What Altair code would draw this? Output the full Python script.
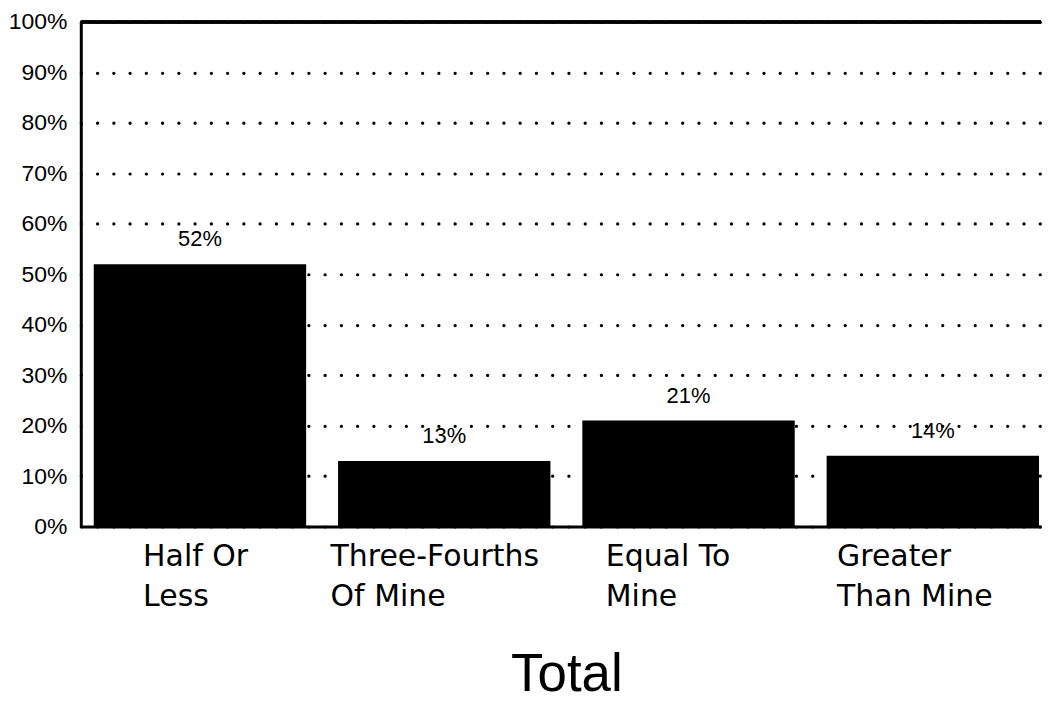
import altair as alt
import pandas as pd

categories = ["Half Or|Less", "Three-Fourths|Of Mine", "Equal To|Mine", "Greater|Than Mine"]
values = [52, 13, 21, 14]
value_labels = ["52%", "13%", "21%", "14%"]
y_ticks = [0, 10, 20, 30, 40, 50, 60, 70, 80, 90, 100]
x_title = "Total"

df = pd.DataFrame({"category": categories, "value": values, "label": value_labels})

label_offset = {
    "condition": [
        {"test": "datum.value == 'Half Or|Less'", "value": -57},
        {"test": "datum.value == 'Three-Fourths|Of Mine'", "value": -114},
        {"test": "datum.value == 'Equal To|Mine'", "value": -83},
    ],
    "value": -96,
}

x_enc = alt.X(
    "category:N",
    sort=categories,
    scale=alt.Scale(paddingInner=0.1306, paddingOuter=0.0306, align=0.867),
    axis=alt.Axis(
        title=x_title,
        labelExpr="split(datum.label, '|')",
        labelAngle=0,
        labelAlign="left",
        labelBaseline="top",
        labelOffset=label_offset,
        labelFont="DejaVu Sans",
        labelFontSize=30,
        labelLineHeight=40,
        labelColor="black",
        labelPadding=15,
        labelLimit=0,
        ticks=False,
        domainColor="black",
        domainWidth=3,
        titleFont="Liberation Sans",
        titleFontSize=53,
        titleFontWeight="normal",
        titleColor="black",
        titlePadding=37,
        titleX=487,
        titleAlign="center",
    ),
)

y_enc = alt.Y(
    "value:Q",
    scale=alt.Scale(domain=[0, 100], nice=False),
    axis=alt.Axis(
        title=None,
        values=y_ticks,
        labelExpr="datum.value + '%'",
        labelFont="Liberation Sans",
        labelFontSize=23,
        labelColor="black",
        labelPadding=14,
        ticks=False,
        domainColor="black",
        domainWidth=3,
        grid=True,
        gridColor="black",
        gridDash=[0.1, 16.2],
        gridCap="round",
        gridWidth=3.2,
    ),
)

bars = alt.Chart(df).mark_bar(color="black").encode(x=x_enc, y=y_enc)

texts = alt.Chart(df).mark_text(
    baseline="bottom", dy=-13, fontSize=22, font="Liberation Sans", color="black"
).encode(x=alt.X("category:N", sort=categories), y="value:Q", text="label:N")

top_rule = alt.Chart(df).mark_rule(color="black", strokeWidth=3).encode(y=alt.datum(100))

chart = (
    alt.layer(bars, texts, top_rule)
    .properties(width=963, height=506, padding={"left": 0, "top": 2, "right": 0, "bottom": 0})
    .configure_view(stroke=None)
)

chart.save("out.html", embed_options={"renderer": "svg", "actions": False})
